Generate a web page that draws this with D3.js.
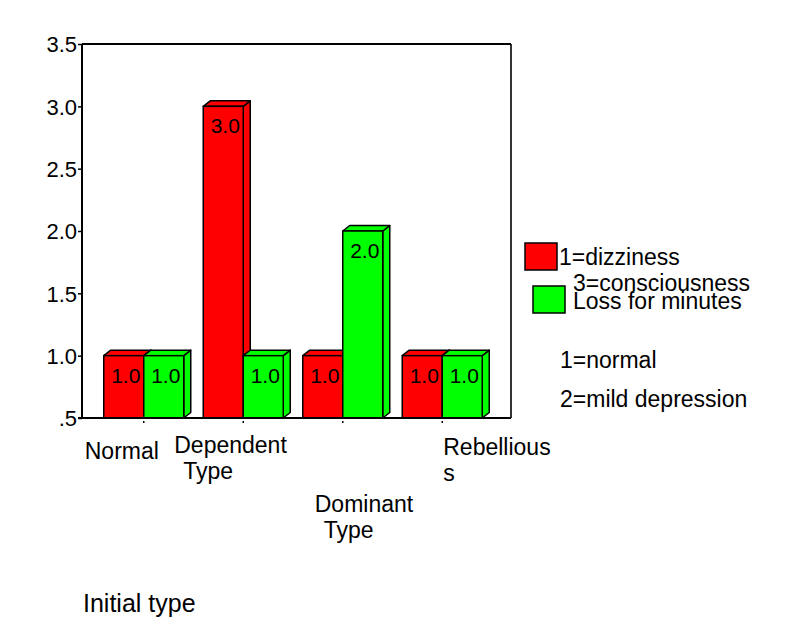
<!DOCTYPE html>
<html>
<head>
<meta charset="utf-8">
<script src="https://cdn.jsdelivr.net/npm/d3@7"></script>
<style>
  html, body { margin: 0; padding: 0; background: #fff; }
  svg text { font-family: "Liberation Sans", Arial, sans-serif; fill: #000; }
</style>
</head>
<body>
<svg id="chart" width="790" height="640"></svg>
<script>
// 3D clustered bars, SPSS style
const categories = ["Normal", "Dependent Type", "Dominant Type", "Rebellious"];
const categoryLines = [["Normal"], ["Dependent", "Type"], ["Dominant", "Type"], ["Rebellious", "s"]];
const dizziness = [1.0, 3.0, 1.0, 1.0];
const consciousness = [1.0, 1.0, 2.0, 1.0];
const seriesLabels = [["1=dizziness"], ["3=consciousness", "Loss for minutes"]];
const seriesColors = ["#ff0000", "#00ff00"];
const yTicks = [0.5, 1.0, 1.5, 2.0, 2.5, 3.0, 3.5];
const yTickLabels = [".5", "1.0", "1.5", "2.0", "2.5", "3.0", "3.5"];
const notes = ["1=normal", "2=mild depression"];
const xTitle = "Initial type";

const svg = d3.select("#chart");
const L = 82, R = 511, T = 44, B = 418;
const barW = 40, dx = 7, dy = -5.5;

const x = d3.scaleBand().domain(categories).range([94, 492]);
const y = d3.scaleLinear().domain([0.5, 3.5]).range([B, T]);

// frame top / right
svg.append("line").attr("x1", L).attr("x2", R).attr("y1", T).attr("y2", T)
  .attr("stroke", "#000").attr("stroke-width", 2);
svg.append("line").attr("x1", R).attr("x2", R).attr("y1", T).attr("y2", B)
  .attr("stroke", "#000").attr("stroke-width", 1.6);

// y axis
const gy = svg.append("g").attr("transform", `translate(${L},0)`)
  .call(d3.axisLeft(y).tickValues(yTicks).tickSize(4).tickPadding(1)
    .tickFormat((d, i) => yTickLabels[i]));
gy.select(".domain").attr("stroke-width", 2).attr("d", `M0,${T}V${B}`);
gy.selectAll(".tick line").attr("stroke-width", 1.5);
gy.selectAll(".tick text").attr("font-size", 22).attr("dy", "0.36em")
  .style("font-family", '"Liberation Sans", Arial, sans-serif');

// bars
function bar3d(g, x0, v, color) {
  const yt = y(v), yb = y(0.5);
  g.append("path")
    .attr("d", `M${x0 + barW},${yt}L${x0 + barW + dx},${yt + dy}L${x0 + barW + dx},${yb + dy}L${x0 + barW},${yb}Z`)
    .attr("fill", color).attr("stroke", "#000").attr("stroke-width", 1.5).attr("stroke-linejoin", "round");
  g.append("path")
    .attr("d", `M${x0},${yt}L${x0 + dx},${yt + dy}L${x0 + barW + dx},${yt + dy}L${x0 + barW},${yt}Z`)
    .attr("fill", color).attr("stroke", "#000").attr("stroke-width", 1.5).attr("stroke-linejoin", "round");
  g.append("rect").attr("x", x0).attr("y", yt).attr("width", barW).attr("height", yb - yt)
    .attr("fill", color).attr("stroke", "#000").attr("stroke-width", 1.5);
  g.append("text").attr("x", x0 + barW / 2 + 2).attr("y", yt + 27)
    .attr("text-anchor", "middle").attr("font-size", 21).attr("fill", "#111")
    .text(d3.format(".1f")(v));
}

const gb = svg.append("g");
categories.forEach((c, i) => {
  const cx = x(c) + x.bandwidth() / 2;
  bar3d(gb, cx - barW, dizziness[i], seriesColors[0]);
  bar3d(gb, cx, consciousness[i], seriesColors[1]);
});

// x axis baseline + tiny ticks
svg.append("line").attr("x1", L - 4).attr("x2", R).attr("y1", B).attr("y2", B)
  .attr("stroke", "#000").attr("stroke-width", 2);
const gx = svg.append("g");
gx.selectAll("line.tk").data(categories).join("line").attr("class", "tk")
  .attr("x1", d => x(d) + x.bandwidth() / 2).attr("x2", d => x(d) + x.bandwidth() / 2)
  .attr("y1", B + 3).attr("y2", B + 5).attr("stroke", "#000").attr("stroke-width", 1.5);

// staggered category labels (offset from tick, first baseline)
const labelPos = [[-59, 459], [-69, 453], [-28, 512], [1, 455]];
categories.forEach((c, i) => {
  const cx = x(c) + x.bandwidth() / 2;
  const t = gx.append("text").attr("font-size", 23);
  categoryLines[i].forEach((ln, j) => {
    t.append("tspan").attr("x", cx + labelPos[i][0] + (ln === "Type" ? 9 : 0))
      .attr("y", labelPos[i][1] + j * 26).text(ln);
  });
});

svg.append("text").attr("x", 83).attr("y", 612).attr("font-size", 25).text(xTitle);

// legend
const lg = svg.append("g");
const swatches = [[525, 243, 559, [265]], [533, 286, 573, [291, 309]]];
seriesLabels.forEach((lines, i) => {
  const s = swatches[i];
  lg.append("rect").attr("x", s[0]).attr("y", s[1]).attr("width", 32).attr("height", 27)
    .attr("fill", seriesColors[i]).attr("stroke", "#000").attr("stroke-width", 1.5);
  lines.forEach((ln, j) => {
    lg.append("text").attr("x", s[2]).attr("y", s[3][j]).attr("font-size", 23).text(ln);
  });
});
notes.forEach((n, i) => {
  lg.append("text").attr("x", 560).attr("y", 368 + i * 39).attr("font-size", 23).text(n);
});
</script>
</body>
</html>
